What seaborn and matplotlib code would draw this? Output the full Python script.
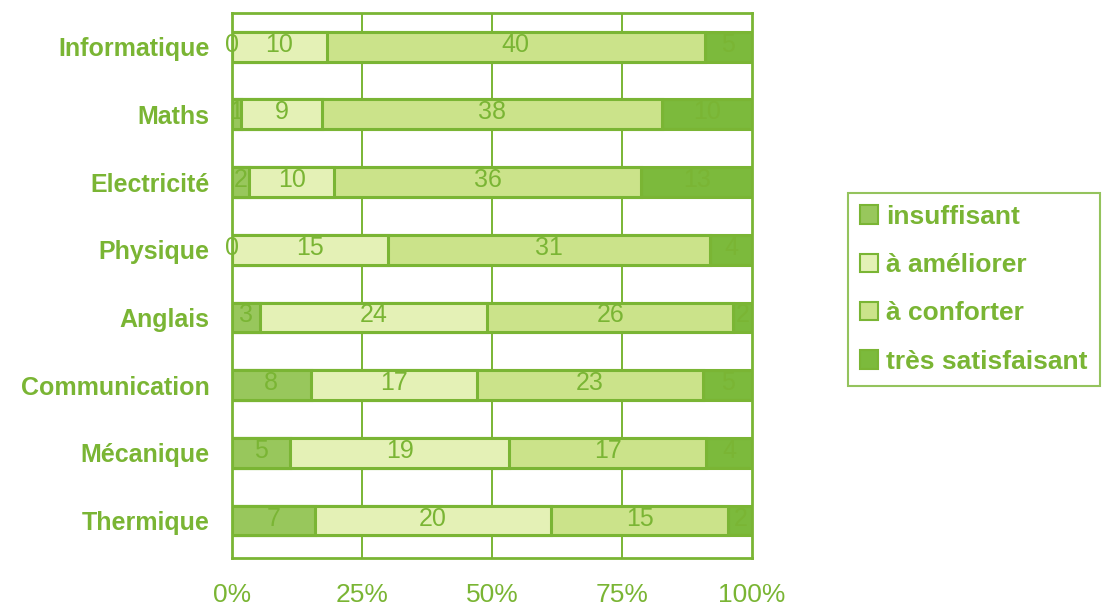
import matplotlib
matplotlib.use("Agg")
import matplotlib.pyplot as plt
import seaborn as sns
import pandas as pd
import numpy as np
from matplotlib.patches import Patch

categories = ["Informatique", "Maths", "Electricité", "Physique", "Anglais",
              "Communication", "Mécanique", "Thermique"]
series_names = ["insuffisant", "à améliorer", "à conforter", "très satisfaisant"]
insuffisant = [0, 1, 2, 0, 3, 8, 5, 7]
a_ameliorer = [10, 9, 10, 15, 24, 17, 19, 20]
a_conforter = [40, 38, 36, 31, 26, 23, 17, 15]
tres_satisfaisant = [5, 10, 13, 4, 2, 5, 4, 2]
xtick_labels = ["0%", "25%", "50%", "75%", "100%"]

colors = ["#98c75c", "#e4f1b6", "#cbe38a", "#7cba3c"]
green = "#7ab534"

sns.set_theme(style="white")
plt.rcParams["font.family"] = ["Liberation Sans", "DejaVu Sans"]

vals = np.array([insuffisant, a_ameliorer, a_conforter, tres_satisfaisant], dtype=float)
totals = vals.sum(axis=0)
pct = vals / totals * 100
cum = np.cumsum(pct, axis=0)

fig = plt.figure(figsize=(11.06, 6.07), dpi=100)
ax = fig.add_axes([0.2098, 0.081, 0.4702, 0.898])

# draw from the full cumulative down so each layer overlaps the next
for i in range(3, -1, -1):
    df = pd.DataFrame({"cat": categories, "w": cum[i]})
    sns.barplot(data=df, x="w", y="cat", orient="h", color=colors[i],
                saturation=1, width=0.44, edgecolor=green, linewidth=2.2, ax=ax)

for i in range(4):
    left = cum[i] - pct[i]
    for j in range(len(categories)):
        xc = left[j] + pct[i][j] / 2
        ax.text(xc, j - 0.03, f"{int(vals[i][j])}", ha="center", va="center",
                color=green, fontsize=18)

ax.set_xlim(0, 100)
ax.set_ylim(7.55, -0.5)
ax.set_xticks([0, 25, 50, 75, 100])
ax.set_xticklabels(xtick_labels, fontsize=19, color=green)
ax.set_yticks(range(len(categories)))
ax.set_yticklabels(categories, fontsize=18, fontweight="bold", color=green)
ax.set_xlabel("")
ax.set_ylabel("")
ax.tick_params(axis="x", length=6, color=green, width=1.5, pad=15, direction="inout")
ax.tick_params(axis="y", length=0, pad=16)
ax.set_yticks(np.arange(-0.5, 7.6, 1), minor=True)
ax.tick_params(axis="y", which="minor", length=5, color=green, width=1.5)
for x in [25, 50, 75]:
    ax.axvline(x, color=green, lw=1.4, zorder=0)
for s in ax.spines.values():
    s.set_color(green)
    s.set_linewidth(2)
ax.set_axisbelow(True)

handles = [Patch(facecolor=colors[i], edgecolor=green, lw=1.5) for i in range(4)]
leg = fig.legend(handles, series_names, loc="upper left",
                 bbox_to_anchor=(848 / 1106, 1 - 193 / 607),
                 frameon=True, fancybox=False, prop={"size": 19, "weight": "bold"},
                 handlelength=0.7, handleheight=0.7, handletextpad=0.3,
                 labelspacing=0.92, borderpad=0.45, borderaxespad=0,
                 labelcolor=green)
leg.get_frame().set_edgecolor(green)
leg.get_frame().set_linewidth(1.5)

fig.savefig("out.png", dpi=100)
